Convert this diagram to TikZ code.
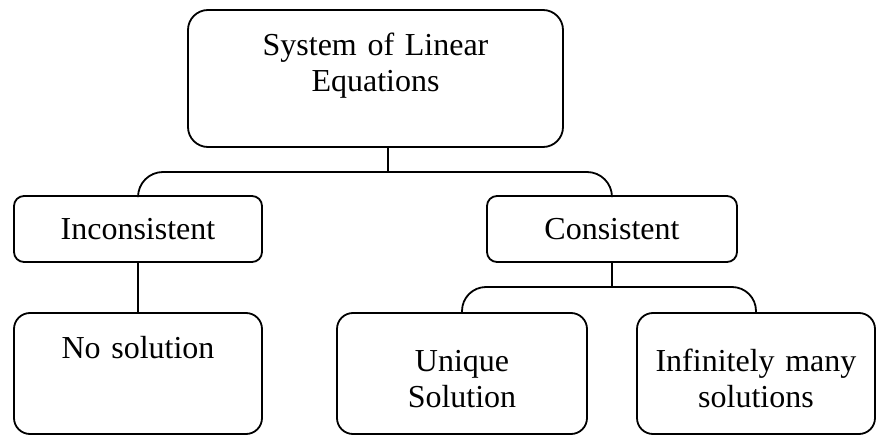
\documentclass[tikz,border=0pt]{standalone}
\usepackage{fontspec}
\setmainfont{Liberation Serif}
\usepackage{tikz}

\begin{document}
\begin{tikzpicture}[x=1pt, y=1pt, line width=1.8pt,
    block/.style={rectangle, draw, align=center, inner sep=0pt,
        font=\fontsize{32pt}{36pt}\selectfont}]
\useasboundingbox (0,0) rectangle (876,-436);

        \node (sys) at (375.5,-78.5) [block, rounded corners=20pt, text width=375pt, text height=46pt, text depth=91pt] {System of Linear\\Equations};
        \node (inc) at (138,-229) [block, rounded corners=10pt, text width=248pt, minimum height=66pt] {Inconsistent};
        \node (con) at (612,-229) [block, rounded corners=10pt, text width=250pt, minimum height=66pt] {Consistent};
        \node (nosol) at (138,-373.5) [block, rounded corners=16pt, text width=248pt, text height=45pt, text depth=76pt] {No solution};
        \node (uniq) at (462,-373.5) [block, rounded corners=16pt, text width=250pt, text height=58pt, text depth=63pt] {Unique\\Solution};
        \node (inf) at (756,-373.5) [block, rounded corners=16pt, text width=238pt, text height=58pt, text depth=63pt] {Infinitely many\\solutions};

        \coordinate (s1) at (388,-172);
        \coordinate (s2) at (612,-287);
        \draw (sys.south -| s1)--(s1);
        \draw[rounded corners=25pt] (inc.north) |- (s1) -| (con.north);
        \draw (inc)--(nosol);
        \draw (con)--(s2);
        \draw[rounded corners=24pt] (uniq.north) |- (s2) -| (inf.north);

\end{tikzpicture}
\end{document}
